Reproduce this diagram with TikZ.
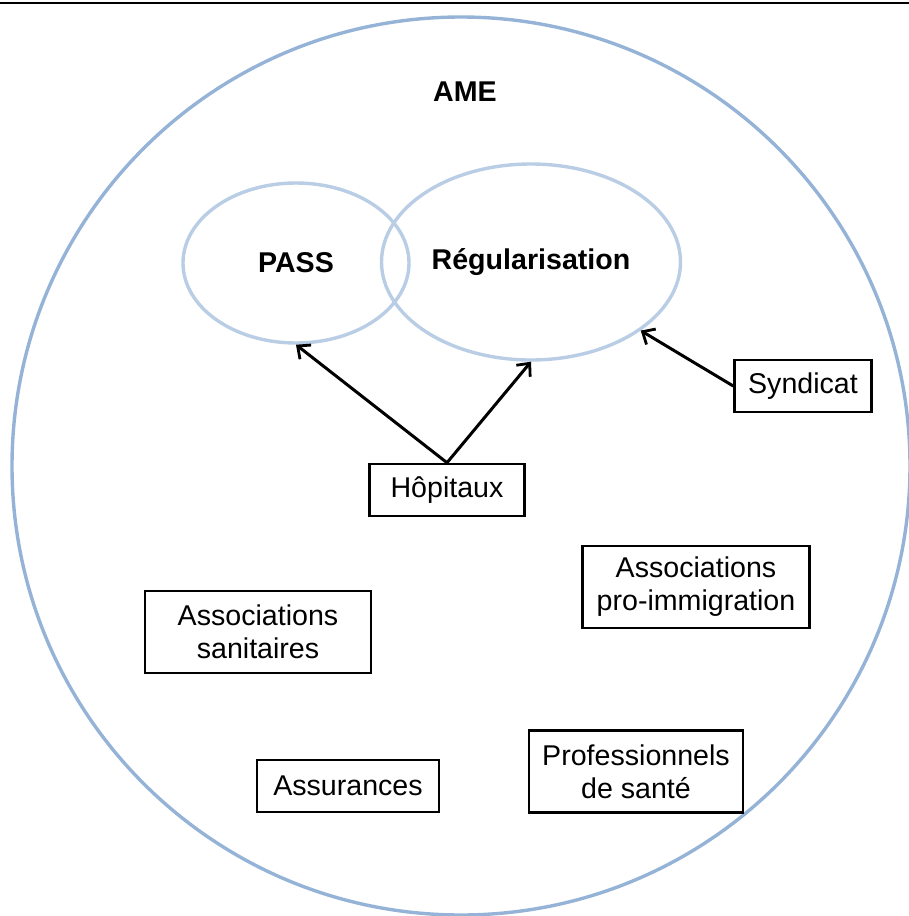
\documentclass[tikz,border=0pt]{standalone}
\usepackage{fontspec}
\setmainfont{Liberation Sans}
\usetikzlibrary{shapes.geometric,arrows.meta}
\definecolor{outerblue}{RGB}{149,179,215}
\definecolor{innerblue}{RGB}{185,205,229}
\newcommand{\boxfont}{\fontsize{14.3}{16.5}\selectfont}
\begin{document}
\begin{tikzpicture}[x=0.5pt,y=-0.5pt,
  actor/.style={draw,line width=1.3pt,align=center,font=\boxfont,minimum height=26pt,inner sep=2pt},
  twoline/.style={minimum height=41pt},
  zone/.style={ellipse,draw=innerblue,line width=1.7pt,inner sep=0pt,font=\boxfont\bfseries},
  link/.style={-{Straight Barb[length=5pt,width=9pt,line width=1.4pt]},line width=1.5pt}]
\useasboundingbox (0,0) rectangle (909,916);
\draw[line width=1pt] (0,3) -- (909,3);
\node[circle,draw=outerblue,line width=1.7pt,minimum size=449pt] (amecircle) at (461,466) {};
\node[font=\boxfont\bfseries] (ame) at (465,92) {AME};
\node[zone,minimum width=113pt,minimum height=80pt] (pass) at (296,263) {PASS};
\node[zone,minimum width=149.5pt,minimum height=98pt] (regul) at (531,262) {Régularisation};
\node[actor,minimum width=68.5pt] (syndicat) at (803,386) {Syndicat};
\node[actor,minimum width=77.5pt] (hopitaux) at (447,490) {Hôpitaux};
\node[actor,twoline,minimum width=113.5pt] (assoimmig) at (696,587) {Associations\\pro-immigration};
\node[actor,twoline,minimum width=113pt] (assosanit) at (258,632) {Associations\\sanitaires};
\node[actor,minimum width=91pt] (assurances) at (348,786) {Assurances};
\node[actor,twoline,minimum width=107pt] (profsante) at (636,771.5) {Professionnels\\de santé};
\draw[link] (hopitaux.north) -- (pass.south);
\draw[link] (hopitaux.north) -- (regul.south);
\draw[link] (syndicat.west) -- (regul.-32);
\end{tikzpicture}
\end{document}
